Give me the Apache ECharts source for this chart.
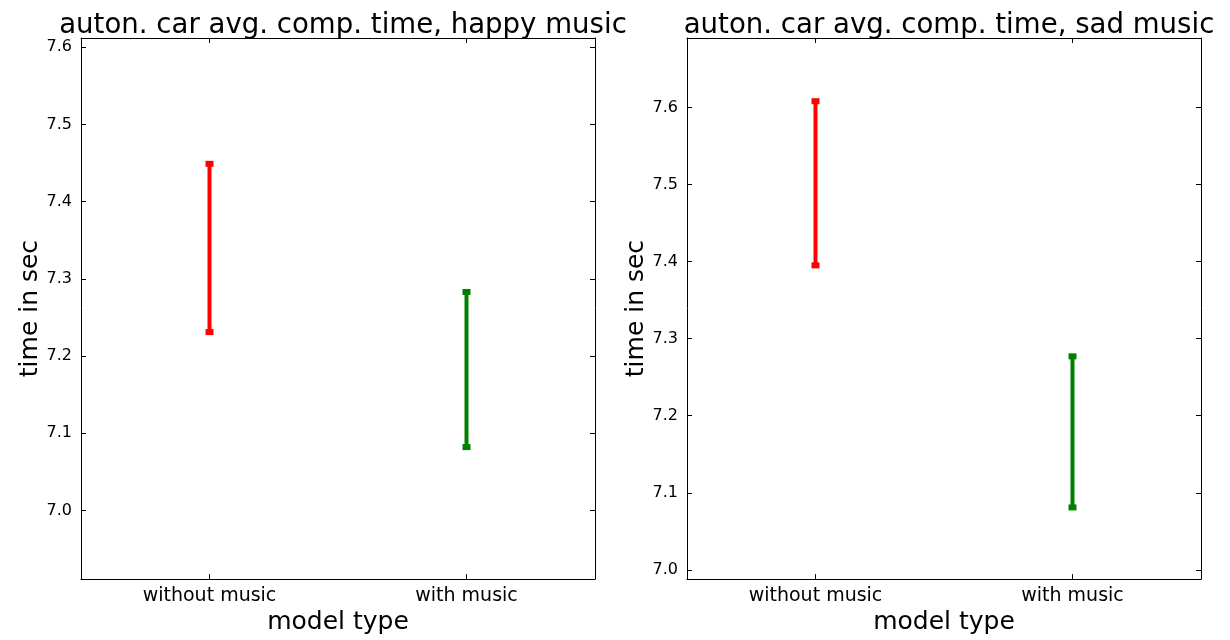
<!DOCTYPE html>
<html><head><meta charset="utf-8">
<script src="https://cdn.jsdelivr.net/npm/echarts@6/dist/echarts.min.js"></script>
<style>html,body{margin:0;padding:0;background:#fff}#c{width:1230px;height:640px}</style>
</head><body><div id="c"></div>
<script>
const categories = ['without music', 'with music'];
const titles = ['auton. car avg. comp. time, happy music', 'auton. car avg. comp. time, sad music'];
const happyLow = [7.231, 7.082];
const happyHigh = [7.449, 7.283];
const sadLow = [7.395, 7.081];
const sadHigh = [7.608, 7.277];
const yTicks = [7.0, 7.1, 7.2, 7.3, 7.4, 7.5, 7.6];
const yRanges = [[6.911, 7.612], [6.988, 7.690]];

const barColors = ['#ff0000', '#008000'];
const FONT = 'DejaVu Sans';
const gridLefts = [81, 687];

const chart = echarts.init(document.getElementById('c'), null, {renderer: 'canvas'});

const grids = [], xAxes = [], yAxes = [], series = [], titleOpts = [];
[0, 1].forEach(function (g) {
  grids.push({left: gridLefts[g], top: 38, width: 514, height: 543, show: false});
  titleOpts.push({text: titles[g], left: gridLefts[g] + 257, top: 7, textAlign: 'center',
    textStyle: {fontFamily: FONT, fontSize: 27.6, fontWeight: 'normal', color: '#000'}});
  const lineStyle = {color: '#000', width: 1};
  xAxes.push({type: 'category', gridIndex: g, data: categories, position: 'bottom', boundaryGap: true,
    axisLine: {show: true, lineStyle: lineStyle},
    axisTick: {show: true, inside: true, alignWithLabel: true, length: 5, lineStyle: lineStyle},
    axisLabel: {fontFamily: FONT, fontSize: 19, color: '#000', margin: 7},
    name: 'model type', nameLocation: 'middle', nameGap: 29,
    nameTextStyle: {fontFamily: FONT, fontSize: 25, color: '#000'},
    splitLine: {show: false}});
  xAxes.push({type: 'category', gridIndex: g, data: categories, position: 'top', boundaryGap: true,
    axisLine: {show: true, lineStyle: lineStyle},
    axisTick: {show: true, inside: true, alignWithLabel: true, length: 5, lineStyle: lineStyle},
    axisLabel: {show: false}, splitLine: {show: false}});
  yAxes.push({type: 'value', gridIndex: g, min: yRanges[g][0], max: yRanges[g][1], position: 'left',
    axisLine: {show: true, lineStyle: lineStyle},
    axisTick: {show: true, inside: true, length: 5, lineStyle: lineStyle, customValues: yTicks},
    axisLabel: {fontFamily: FONT, fontSize: 16, color: '#000', margin: 9, customValues: yTicks,
      formatter: function (v) { return v.toFixed(1); }},
    name: 'time in sec', nameLocation: 'middle', nameGap: 38,
    nameTextStyle: {fontFamily: FONT, fontSize: 25, color: '#000'},
    splitLine: {show: false}});
  yAxes.push({type: 'value', gridIndex: g, min: yRanges[g][0], max: yRanges[g][1], position: 'right',
    axisLine: {show: true, lineStyle: lineStyle},
    axisTick: {show: true, inside: true, length: 5, lineStyle: lineStyle, customValues: yTicks},
    axisLabel: {show: false}, splitLine: {show: false}});
});

function errData(low, high) {
  return categories.map(function (c, i) { return [i, low[i], high[i]]; });
}
function renderErr(params, api) {
  const i = api.value(0);
  const lo = api.coord([i, api.value(1)]);
  const hi = api.coord([i, api.value(2)]);
  const col = barColors[i];
  return {type: 'group', children: [
    {type: 'line', shape: {x1: lo[0], y1: lo[1], x2: hi[0], y2: hi[1]}, style: {stroke: col, lineWidth: 4}},
    {type: 'rect', shape: {x: hi[0] - 4, y: hi[1] - 3, width: 8, height: 6}, style: {fill: col}},
    {type: 'rect', shape: {x: lo[0] - 4, y: lo[1] - 3, width: 8, height: 6}, style: {fill: col}}
  ]};
}
series.push({type: 'custom', xAxisIndex: 0, yAxisIndex: 0, data: errData(happyLow, happyHigh), renderItem: renderErr, clip: false});
series.push({type: 'custom', xAxisIndex: 2, yAxisIndex: 2, data: errData(sadLow, sadHigh), renderItem: renderErr, clip: false});

chart.setOption({
  animation: false,
  backgroundColor: '#fff',
  title: titleOpts,
  grid: grids,
  xAxis: xAxes,
  yAxis: yAxes,
  series: series
});
</script>
</body></html>
